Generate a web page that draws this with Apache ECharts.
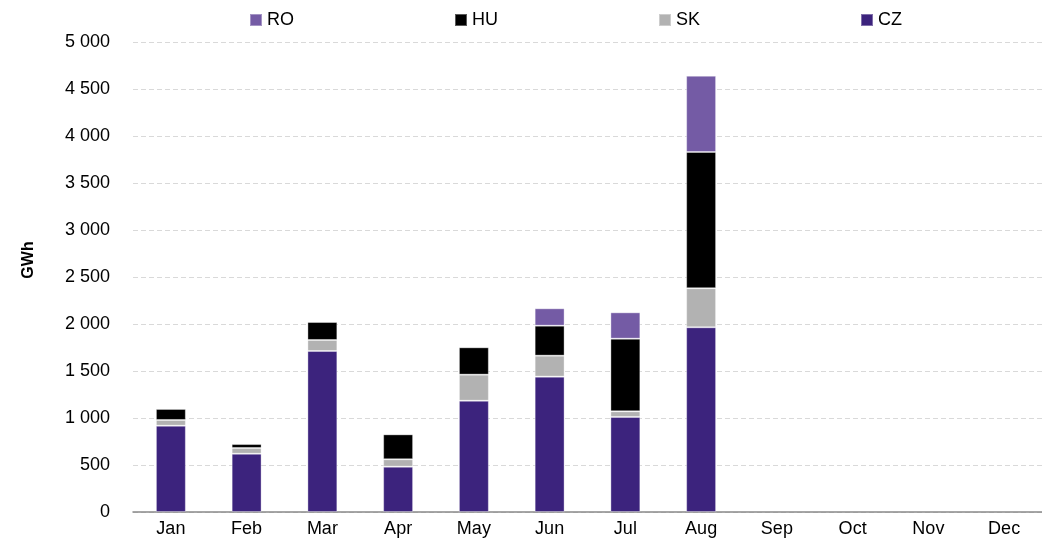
<!DOCTYPE html>
<html>
<head>
<meta charset="utf-8">
<script src="https://cdn.jsdelivr.net/npm/echarts@6/dist/echarts.min.js"></script>
<style>
  html, body { margin: 0; padding: 0; background: #fff; }
  #main { width: 1042px; height: 549px; }
</style>
</head>
<body>
<div id="main"></div>
<script>
// 月份
var months = ["Jan", "Feb", "Mar", "Apr", "May", "Jun", "Jul", "Aug", "Sep", "Oct", "Nov", "Dec"];
// 各国数值 (GWh)
var czData = [918, 620, 1713, 482, 1184, 1440, 1011, 1965, null, null, null, null];
var skData = [61, 61, 117, 79, 277, 223, 60, 415, null, null, null, null];
var huData = [117, 42, 191, 265, 291, 319, 773, 1450, null, null, null, null];
var roData = [null, null, null, null, null, 185, 280, 811, null, null, null, null];
var yTicks = [0, 500, 1000, 1500, 2000, 2500, 3000, 3500, 4000, 4500, 5000];
// 图例顺序
var legendNames = ['RO', 'HU', 'SK', 'CZ'];

var myChart = echarts.init(document.getElementById('main'));

// 千位分隔用空格
function fmt(v) {
    return String(v).replace(/\B(?=(\d{3})+(?!\d))/g, ' ');
}

function bar(name, data, color) {
    return {
        name: name,
        type: 'bar',
        stack: 'total',
        barWidth: '39.5%',
        data: data,
        itemStyle: {
            color: color,
            borderColor: 'rgba(255,255,255,0.35)',
            borderWidth: 1
        }
    };
}

// 每个图例单独放置，间距固定
var legendLeft = [244, 449, 653, 855];
var legends = legendNames.map(function (n, i) {
    return {
        data: [n],
        left: legendLeft[i],
        top: 6,
        itemWidth: 12,
        itemHeight: 12,
        icon: 'rect',
        textStyle: { fontSize: 18, color: '#000' }
    };
});

var option = {
    animation: false,
    textStyle: { fontFamily: 'Liberation Sans, Arial, sans-serif' },
    legend: legends,
    grid: { left: 133, top: 42, width: 912, height: 470 },
    xAxis: {
        type: 'category',
        data: months,
        axisLine: { lineStyle: { color: '#898989', width: 1.5 } },
        axisTick: { length: 6, lineStyle: { color: '#898989', width: 1.5 } },
        axisLabel: { fontSize: 18, color: '#000', margin: 8 }
    },
    yAxis: {
        type: 'value',
        min: yTicks[0],
        max: yTicks[yTicks.length - 1],
        interval: 500,
        name: 'GWh',
        nameLocation: 'middle',
        nameGap: 96,
        nameRotate: 90,
        nameTextStyle: { fontSize: 16, fontWeight: 'bold', color: '#000', padding: [0, 0, 0, 34] },
        axisLine: { show: false },
        axisTick: { show: false },
        axisLabel: { fontSize: 18, color: '#000', margin: 23, formatter: fmt },
        splitLine: { lineStyle: { color: '#d9d9d9', type: [5, 3], width: 1 } }
    },
    series: [
        bar('CZ', czData, '#3c237d'),
        bar('SK', skData, '#b2b2b2'),
        bar('HU', huData, '#000000'),
        bar('RO', roData, '#745ba5')
    ]
};

myChart.setOption(option);
</script>
</body>
</html>
